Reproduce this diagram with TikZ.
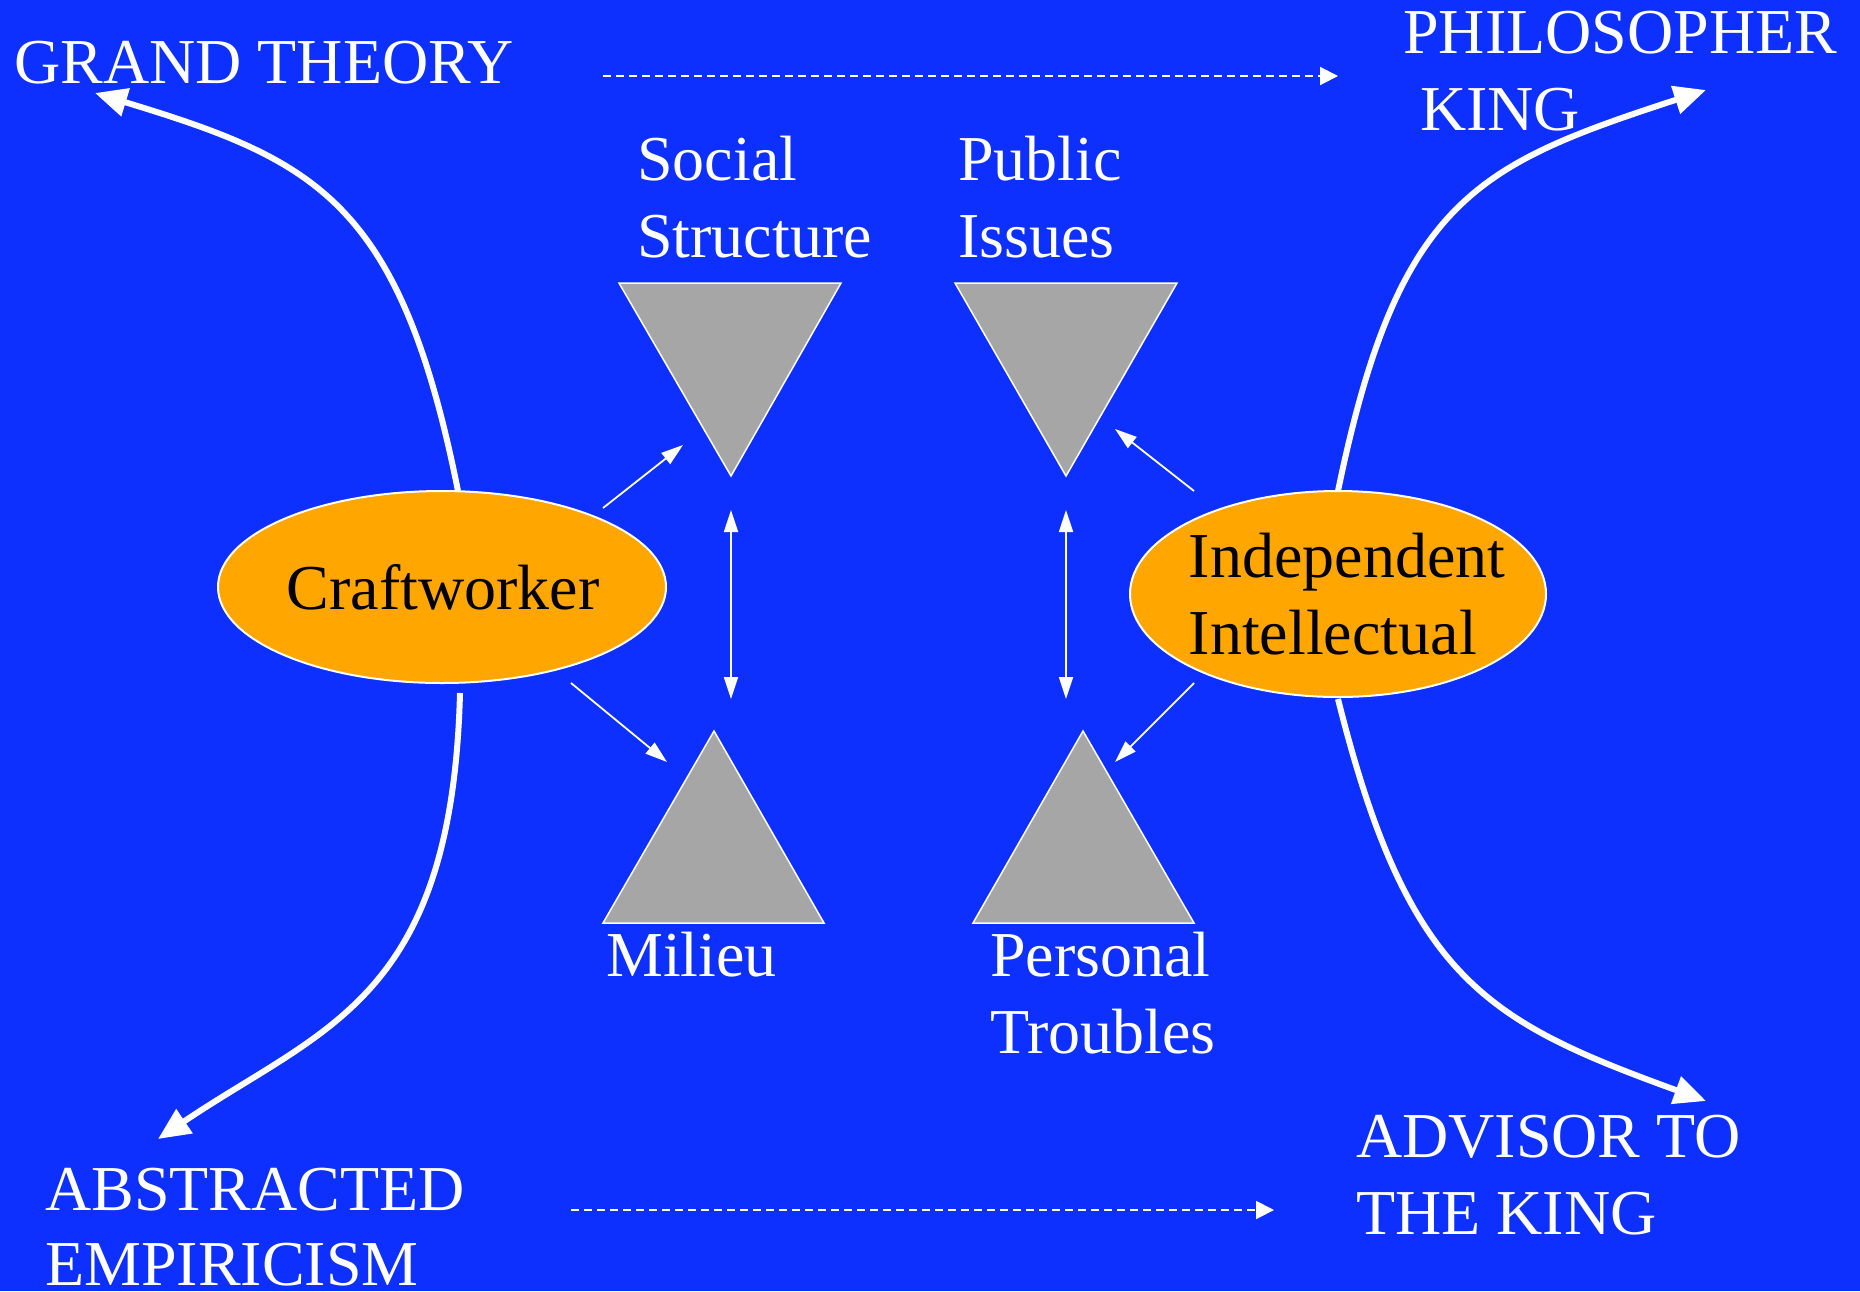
\documentclass[tikz,border=0pt]{standalone}
\usepackage{fontspec}
\setmainfont{Liberation Serif}
\usetikzlibrary{arrows.meta,shapes.geometric}
\definecolor{bgblue}{RGB}{13,48,255}
\definecolor{trigray}{RGB}{166,166,166}
\definecolor{orng}{RGB}{255,166,0}
\begin{document}
\begin{tikzpicture}[x=1pt,y=-1pt,
  lbl/.style={text=white,font=\fontsize{64}{77}\selectfont,anchor=base west,inner sep=0pt},
  oval/.style={ellipse,draw=white,line width=2pt,fill=orng,inner sep=0pt},
  ovaltext/.style={inner sep=0pt,font=\fontsize{64}{77}\selectfont,text=black,align=left},
  bigarrow/.style={white,line width=6pt,-{Triangle[length=32pt,width=28pt]}},
  thinarrow/.style={white,line width=1.8pt,-{Triangle[length=22pt,width=14pt]}},
  dblarrow/.style={white,line width=1.8pt,{Triangle[length=22pt,width=14pt]}-{Triangle[length=22pt,width=14pt]}},
  dasharrow/.style={white,line width=2pt,dash pattern=on 8pt off 5pt,-{Triangle[length=18pt,width=18pt]}},
  trishape/.style={fill=trigray,draw=white,line width=1.5pt,line join=miter}
]
\fill[bgblue] (0,0) rectangle (1860,1291);
\useasboundingbox (0,0) rectangle (1860,1291);

% labels
\node[lbl] (grand) at (14,83) {GRAND THEORY};
\node[lbl] (phil1) at (1403,53) {PHILOSOPHER};
\node[lbl] (phil2) at (1420,130) {KING};
\node[lbl] (soc1) at (637,180) {Social};
\node[lbl] (soc2) at (637,257) {Structure};
\node[lbl] (pub1) at (958,180) {Public};
\node[lbl] (pub2) at (958,257) {Issues};
\node[lbl] (mil) at (606,976) {Milieu};
\node[lbl] (per1) at (990,976) {Personal};
\node[lbl] (per2) at (990,1053) {Troubles};
\node[lbl] (abs1) at (45,1210) {ABSTRACTED};
\node[lbl] (abs2) at (45,1285) {EMPIRICISM};
\node[lbl] (adv1) at (1356,1157) {ADVISOR TO};
\node[lbl] (adv2) at (1356,1234) {THE KING};

% triangles
\draw[trishape] (619,283) coordinate (t1a) -- (841,283) coordinate (t1b) -- (731,476) coordinate (t1c) -- cycle;
\draw[trishape] (955,283) coordinate (t2a) -- (1177,283) coordinate (t2b) -- (1066,476) coordinate (t2c) -- cycle;
\draw[trishape] (603,923) coordinate (t3a) -- (824,923) coordinate (t3b) -- (714,731) coordinate (t3c) -- cycle;
\draw[trishape] (973,923) coordinate (t4a) -- (1194,923) coordinate (t4b) -- (1083,731) coordinate (t4c) -- cycle;

% ovals
\node[oval,minimum width=448pt,minimum height=192pt] (cw) at (442,587) {};
\node[ovaltext] (cwt) at (443,587) {Craftworker};
\node[oval,minimum width=416pt,minimum height=206pt] (ii) at (1338,594) {};
\node[ovaltext] (iit) at (1347,594) {Independent\\Intellectual};

% connector end points
\coordinate (gtTip) at (95,93);
\coordinate (pkTip) at (1706,90);
\coordinate (aeTip) at (158,1139);
\coordinate (akTip) at (1706,1101);
\coordinate (cwTop) at (458,491);
\coordinate (cwBot) at (460,693);
\coordinate (iiTop) at (1338,491);
\coordinate (iiBot) at (1338,699);

\coordinate (a1s) at (603,508);  \coordinate (a1e) at (683,445);
\coordinate (a2s) at (571,683);  \coordinate (a2e) at (667,762);
\coordinate (d1s) at (731,510);  \coordinate (d1e) at (731,699);
\coordinate (d2s) at (1066,510); \coordinate (d2e) at (1066,699);
\coordinate (a3s) at (1194,491); \coordinate (a3e) at (1115,429);
\coordinate (a4s) at (1194,683); \coordinate (a4e) at (1115,762);

\coordinate (ds1) at (603,76);  \coordinate (de1) at (1338,76);
\coordinate (ds2) at (571,1210); \coordinate (de2) at (1274,1210);

% big curved arrows
\draw[bigarrow] (cwTop) .. controls (400,200) and (315,160) .. (gtTip);
\draw[bigarrow] (iiTop) .. controls (1398,200) and (1476,165) .. (pkTip);
\draw[bigarrow] (cwBot) .. controls (452,1000) and (324,1027) .. (aeTip);
\draw[bigarrow] (iiBot) .. controls (1408,979) and (1486,1021) .. (akTip);

% thin arrows
\draw[thinarrow] (a1s) -- (a1e);
\draw[thinarrow] (a2s) -- (a2e);
\draw[thinarrow] (a3s) -- (a3e);
\draw[thinarrow] (a4s) -- (a4e);
\draw[dblarrow] (d1s) -- (d1e);
\draw[dblarrow] (d2s) -- (d2e);

% dashed arrows
\draw[dasharrow] (ds1) -- (de1);
\draw[dasharrow] (ds2) -- (de2);
\end{tikzpicture}
\end{document}
